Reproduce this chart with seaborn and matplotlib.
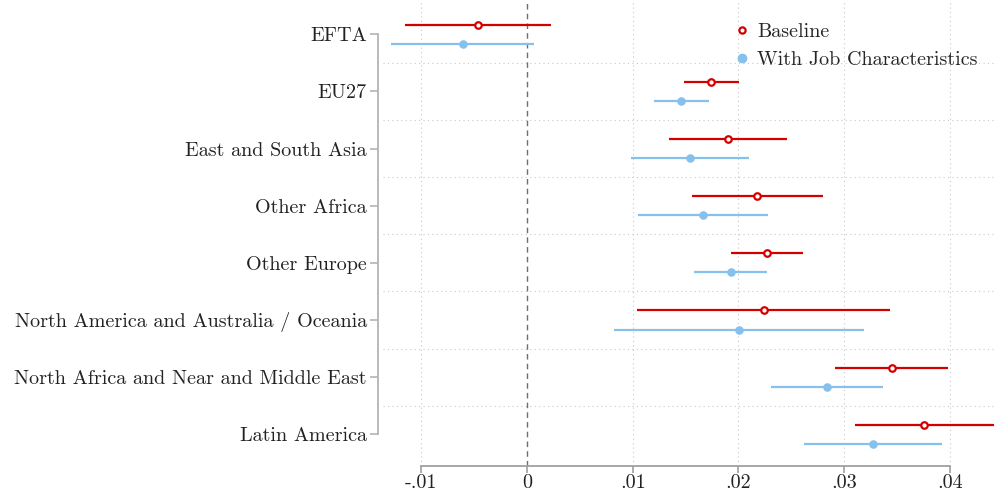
import matplotlib
matplotlib.use("Agg")
import matplotlib.pyplot as plt
import seaborn as sns
import pandas as pd
import numpy as np
from matplotlib.lines import Line2D

# ---------------- data ----------------
regions = ["EFTA", "EU27", "East and South Asia", "Other Africa", "Other Europe",
           "North America and Australia / Oceania",
           "North Africa and Near and Middle East", "Latin America"]

base_est = [-0.00467, 0.01744, 0.01902, 0.02179, 0.02270, 0.02239, 0.03450, 0.03756]
base_lo  = [-0.01154, 0.01482, 0.01343, 0.01561, 0.01927, 0.01044, 0.02914, 0.03103]
base_hi  = [ 0.00224, 0.02003, 0.02460, 0.02797, 0.02615, 0.03437, 0.03986, 0.04418]

job_est = [-0.00608, 0.01457, 0.01542, 0.01665, 0.01927, 0.02003, 0.02838, 0.03273]
job_lo  = [-0.01290, 0.01202, 0.00984, 0.01053, 0.01583, 0.00823, 0.02305, 0.02621]
job_hi  = [ 0.00069, 0.01722, 0.02097, 0.02277, 0.02268, 0.03185, 0.03371, 0.03926]

xticks = [-0.01, 0.0, 0.01, 0.02, 0.03, 0.04]
xtick_labels = ["-.01", "0", ".01", ".02", ".03", ".04"]

series_names = ["Baseline", "With Job Characteristics"]

# ---------------- style ----------------
sns.set_theme(style="white")
plt.rcParams["font.family"] = ["cmr10", "DejaVu Serif"]
plt.rcParams["axes.formatter.use_mathtext"] = True

RED = "#d40000"
BLUE = "#86c0ec"
FS = 14.5
offset = 0.167

idx = np.arange(len(regions))
df = pd.DataFrame({
    "pos": np.concatenate([idx - offset, idx + offset]),
    "est": base_est + job_est,
    "lo": base_lo + job_lo,
    "hi": base_hi + job_hi,
    "series": [series_names[0]] * len(regions) + [series_names[1]] * len(regions),
})

fig = plt.figure(figsize=(9.94, 4.92), dpi=100)
ax = fig.add_axes([378 / 994, (492 - 466) / 492, 1 - 378 / 994, 466 / 492])

# grid
for xv in xticks:
    if xv != 0:
        ax.axvline(xv, color="#c8c8c8", lw=0.8, ls=(0, (1, 3)), zorder=0)
for yv in np.arange(0.5, len(regions) - 0.5, 1.0):
    ax.axhline(yv, xmin=5 / 616, color="#c8c8c8", lw=0.8, ls=(0, (1, 3)), zorder=0)
ax.axvline(0, color="#6e6e6e", lw=1.0, ls=(0, (4, 3)), zorder=1)

# confidence intervals
b = df[df.series == series_names[0]]
j = df[df.series == series_names[1]]
ax.hlines(b["pos"], b["lo"], b["hi"], color=RED, lw=1.6, zorder=2)
ax.hlines(j["pos"], j["lo"], j["hi"], color=BLUE, lw=1.6, zorder=2)

# point estimates
sns.scatterplot(data=b, x="est", y="pos", ax=ax, marker="o", s=22,
                facecolor="white", edgecolor=RED, linewidth=1.6, zorder=3, legend=False)
sns.scatterplot(data=j, x="est", y="pos", ax=ax, marker="o", s=38,
                color=BLUE, edgecolor=BLUE, linewidth=0, zorder=3, legend=False)

ax.set_xlim((378 - 527) / 10570, (994 - 527) / 10570)
ax.set_ylim(7.555, -0.60)

ax.set_yticks(idx)
ax.set_yticklabels(regions, fontsize=FS, color="#222222")
ax.set_xticks(xticks)
ax.set_xticklabels(xtick_labels, fontsize=FS, color="#222222")
ax.set_xlabel("")
ax.set_ylabel("")

for s in ["top", "right"]:
    ax.spines[s].set_visible(False)
ax.spines["left"].set_color("#b4b4b4")
ax.spines["left"].set_linewidth(1.3)
ax.spines["left"].set_bounds(0, len(regions) - 1)
ax.spines["bottom"].set_color("#a0a0a0")
ax.spines["bottom"].set_linewidth(1.3)
ax.spines["bottom"].set_bounds(xticks[0], xticks[-1])
ax.tick_params(axis="y", which="major", left=True, length=6, width=1.2,
               color="#b4b4b4", pad=2)
ax.tick_params(axis="x", which="major", bottom=True, length=5, width=1.2,
               color="#a0a0a0", pad=0.5)

handles = [
    Line2D([], [], marker="o", ls="none", markersize=4.5, markerfacecolor="white",
           markeredgecolor=RED, markeredgewidth=1.6),
    Line2D([], [], marker="o", ls="none", markersize=6, markerfacecolor=BLUE,
           markeredgecolor=BLUE),
]
ax.legend(handles, series_names, loc="upper left", bbox_to_anchor=(0.5747, 0.9506),
          frameon=False, fontsize=FS, handletextpad=0.25, handlelength=1.0,
          labelspacing=0.5, borderaxespad=0.0, borderpad=0.0)

fig.savefig("out.png", dpi=100)
